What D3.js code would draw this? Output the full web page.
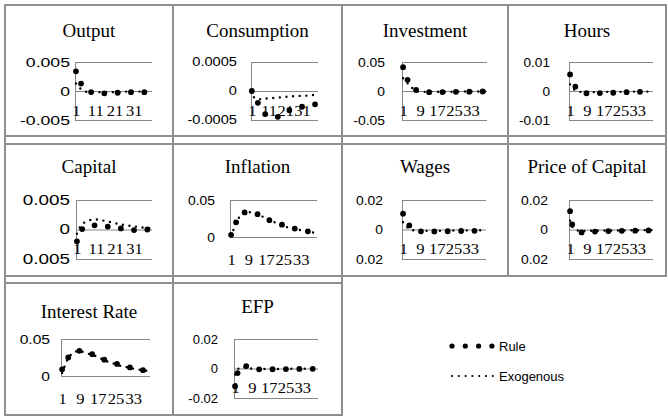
<!DOCTYPE html>
<html>
<head>
<meta charset="utf-8">
<script src="https://cdnjs.cloudflare.com/ajax/libs/d3/7.8.5/d3.min.js"></script>
<style>
  body { margin: 0; background: #fff; }
  svg { display: block; }
</style>
</head>
<body>
<div id="chart"></div>
<script>
// Impulse responses to a shock, 40 periods, "Rule" vs "Exogenous"

const periods = d3.range(1, 41);

const titles = ["Output", "Consumption", "Investment", "Hours", "Capital",
                "Inflation", "Wages", "Price of Capital", "Interest Rate", "EFP"];

const seriesNames = ["Rule", "Exogenous"];

// x tick labels (every 10th or every 8th period)
const xTicksTen = [1, 11, 21, 31];
const xTicksEight = [1, 9, 17, 25, 33];

// y ticks and labels as printed on each panel
const outputTicks = [0.005, 0, -0.005];
const outputLabels = ["0.005", "0", "-0.005"];
const consumptionTicks = [0.0005, 0, -0.0005];
const consumptionLabels = ["0.0005", "0", "-0.0005"];
const investmentTicks = [0.05, 0, -0.05];
const investmentLabels = ["0.05", "0", "-0.05"];
const hoursTicks = [0.01, 0, -0.01];
const hoursLabels = ["0.01", "0", "-0.01"];
const capitalTicks = [0.005, 0, -0.005];
const capitalLabels = ["0.005", "0", "0.005"];
const inflationTicks = [0.05, 0];
const inflationLabels = ["0.05", "0"];
const wagesTicks = [0.02, 0, -0.02];
const wagesLabels = ["0.02", "0", "0.02"];
const priceTicks = [0.02, 0, -0.02];
const priceLabels = ["0.02", "0", "0.02"];
const interestTicks = [0.05, 0];
const interestLabels = ["0.05", "0"];
const efpTicks = [0.02, 0, -0.02];
const efpLabels = ["0.02", "0", "-0.02"];

// series values
const outputRule = [
  0.0034, 0.0024, 0.0016, 0.0011, 0.0007, 0.0004, 0.0001, -0.0001, -0.0002, -0.0003,
  -0.0003, -0.0003, -0.0004, -0.0004, -0.0004, -0.0004, -0.0004, -0.0003, -0.0003, -0.0003,
  -0.0003, -0.0003, -0.0003, -0.0003, -0.0003, -0.0003, -0.0003, -0.0002, -0.0002, -0.0002,
  -0.0002, -0.0002, -0.0002, -0.0002, -0.0002, -0.0002, -0.0002, -0.0002, -0.0002, -0.0002];
const outputExo = [
  0.0013, 0.0009, 0.0005, 0.0002, 0.0000, -0.0001, -0.0002, -0.0002, -0.0002, -0.0002,
  -0.0002, -0.0002, -0.0002, -0.0002, -0.0002, -0.0002, -0.0002, -0.0002, -0.0002, -0.0002,
  -0.0002, -0.0002, -0.0002, -0.0002, -0.0001, -0.0001, -0.0001, -0.0001, -0.0001, -0.0001,
  -0.0001, -0.0001, -0.0001, -0.0001, -0.0001, -0.0001, -0.0001, -0.0001, -0.0001, -0.0001];

const consumptionRule = [
  0, -0.00008, -0.00014, -0.00018, -0.00022, -0.00027, -0.00032, -0.00036, -0.0004, -0.00042,
  -0.00043, -0.00044, -0.00045, -0.00045, -0.00045, -0.00045, -0.00044, -0.00043, -0.00041, -0.0004,
  -0.00038, -0.00036, -0.00034, -0.00032, -0.00031, -0.0003, -0.00029, -0.00028, -0.00028, -0.00027,
  -0.00027, -0.00026, -0.00026, -0.00025, -0.00025, -0.00024, -0.00024, -0.00023, -0.00023, -0.00022];
const consumptionExo = [
  0, -0.0001, -0.00013, -0.00014, -0.00014, -0.00014, -0.00014, -0.00013, -0.00013, -0.00013,
  -0.00013, -0.00012, -0.00012, -0.00012, -0.00012, -0.00011, -0.00011, -0.00011, -0.00011, -0.0001,
  -0.0001, -0.0001, -0.0001, -0.0001, -0.00009, -0.00009, -0.00009, -0.00009, -0.00009, -0.00008,
  -0.00008, -0.00008, -0.00008, -0.00008, -0.00007, -0.00007, -0.00007, -0.00007, -0.00007, -0.00007];

const investmentRule = [
  0.041, 0.029, 0.020, 0.014, 0.009, 0.005, 0.002, 0.000, -0.001, -0.0015,
  -0.002, -0.002, -0.002, -0.002, -0.002, -0.002, -0.0019, -0.0019, -0.0018, -0.0018,
  -0.0017, -0.0017, -0.0016, -0.0016, -0.0015, -0.0015, -0.0014, -0.0014, -0.0013, -0.0013,
  -0.0012, -0.0012, -0.0011, -0.0011, -0.001, -0.001, -0.001, -0.0009, -0.0009, -0.0009];
const investmentExo = [
  0.022, 0.018, 0.014, 0.010, 0.006, 0.003, 0.001, -0.0003, -0.001, -0.0013,
  -0.0015, -0.0015, -0.0015, -0.0015, -0.0015, -0.0014, -0.0014, -0.0014, -0.0013, -0.0013,
  -0.0013, -0.0012, -0.0012, -0.0012, -0.0011, -0.0011, -0.0011, -0.001, -0.001, -0.001,
  -0.0009, -0.0009, -0.0009, -0.0008, -0.0008, -0.0008, -0.0008, -0.0007, -0.0007, -0.0007];

const hoursRule = [
  0.0057, 0.0035, 0.002, 0.001, 0.0003, -0.0002, -0.0005, -0.0007, -0.0008, -0.0008,
  -0.0008, -0.0008, -0.0008, -0.0008, -0.0007, -0.0007, -0.0007, -0.0007, -0.0006, -0.0006,
  -0.0006, -0.0006, -0.0005, -0.0005, -0.0005, -0.0005, -0.0004, -0.0004, -0.0004, -0.0004,
  -0.0004, -0.0003, -0.0003, -0.0003, -0.0003, -0.0003, -0.0003, -0.0002, -0.0002, -0.0002];
const hoursExo = [
  0.0023, 0.0012, 0.0005, 0.0001, -0.0002, -0.0003, -0.0004, -0.0004, -0.0004, -0.0004,
  -0.0004, -0.0004, -0.0004, -0.0004, -0.0004, -0.0004, -0.0004, -0.0003, -0.0003, -0.0003,
  -0.0003, -0.0003, -0.0003, -0.0003, -0.0003, -0.0003, -0.0003, -0.0002, -0.0002, -0.0002,
  -0.0002, -0.0002, -0.0002, -0.0002, -0.0002, -0.0002, -0.0002, -0.0002, -0.0001, -0.0001];

const capitalRule = [
  -0.002, -0.0009, -0.0003, 0.0002, 0.0004, 0.0005, 0.0006, 0.0007, 0.0007, 0.0007,
  0.0007, 0.0007, 0.0006, 0.0006, 0.0006, 0.0005, 0.0005, 0.0005, 0.0004, 0.0004,
  0.0003, 0.0003, 0.0002, 0.0002, 0.0001, 0.0001, 0.0000, 0.0000, -0.0001, -0.0001,
  -0.0001, -0.0001, -0.0001, -0.0001, -0.0001, -0.0001, 0.0000, 0.0000, 0.0000, 0.0000];
const capitalExo = [
  -0.0007, 0.0001, 0.0006, 0.001, 0.0012, 0.0014, 0.0015, 0.0016, 0.0017, 0.0017,
  0.0017, 0.0017, 0.0016, 0.0016, 0.0015, 0.0015, 0.0014, 0.0013, 0.0012, 0.0012,
  0.0011, 0.001, 0.0009, 0.0009, 0.0008, 0.0008, 0.0007, 0.0007, 0.0006, 0.0006,
  0.0005, 0.0005, 0.0004, 0.0004, 0.0004, 0.0003, 0.0003, 0.0002, 0.0002, 0.0002];

const inflationRule = [
  0.003, 0.011, 0.018, 0.024, 0.028, 0.031, 0.033, 0.034, 0.034, 0.034,
  0.033, 0.032, 0.031, 0.030, 0.029, 0.027, 0.026, 0.024, 0.022, 0.021,
  0.020, 0.019, 0.018, 0.017, 0.016, 0.015, 0.014, 0.013, 0.012, 0.0115,
  0.011, 0.010, 0.0095, 0.009, 0.0085, 0.008, 0.007, 0.0065, 0.006, 0.0055];
const inflationExo = [
  0.001, 0.009, 0.017, 0.023, 0.028, 0.031, 0.033, 0.034, 0.034, 0.033,
  0.032, 0.031, 0.030, 0.029, 0.028, 0.027, 0.025, 0.024, 0.022, 0.021,
  0.020, 0.018, 0.017, 0.016, 0.015, 0.014, 0.013, 0.013, 0.012, 0.011,
  0.010, 0.010, 0.009, 0.0085, 0.008, 0.0075, 0.007, 0.0065, 0.006, 0.0055];

const wagesRule = [
  0.0107, 0.007, 0.0045, 0.0027, 0.0013, 0.0003, -0.0004, -0.0009, -0.0012, -0.0013,
  -0.0014, -0.0014, -0.0014, -0.0014, -0.0014, -0.0013, -0.0013, -0.0013, -0.0013, -0.0012,
  -0.0012, -0.0012, -0.0012, -0.0011, -0.0011, -0.0011, -0.0011, -0.001, -0.001, -0.001,
  -0.001, -0.0009, -0.0009, -0.0009, -0.0009, -0.0008, -0.0008, -0.0008, -0.0008, -0.0008];
const wagesExo = [
  0.005, 0.003, 0.0015, 0.0005, -0.0002, -0.0006, -0.0008, -0.0009, -0.0009, -0.0009,
  -0.0009, -0.0009, -0.0009, -0.0009, -0.0009, -0.0009, -0.0008, -0.0008, -0.0008, -0.0008,
  -0.0008, -0.0008, -0.0007, -0.0007, -0.0007, -0.0007, -0.0007, -0.0007, -0.0006, -0.0006,
  -0.0006, -0.0006, -0.0006, -0.0006, -0.0006, -0.0005, -0.0005, -0.0005, -0.0005, -0.0005];

const priceRule = [
  0.0124, 0.0035, 0.0005, -0.001, -0.0017, -0.002, -0.002, -0.0019, -0.0018, -0.0017,
  -0.0016, -0.0015, -0.0014, -0.0014, -0.0013, -0.0013, -0.0012, -0.0012, -0.0011, -0.0011,
  -0.0011, -0.001, -0.001, -0.001, -0.0009, -0.0009, -0.0009, -0.0009, -0.0008, -0.0008,
  -0.0008, -0.0008, -0.0007, -0.0007, -0.0007, -0.0007, -0.0007, -0.0006, -0.0006, -0.0006];
const priceExo = [
  0.006, 0.002, 0.0003, -0.0005, -0.0008, -0.0009, -0.0009, -0.0009, -0.0009, -0.0009,
  -0.0008, -0.0008, -0.0008, -0.0008, -0.0008, -0.0007, -0.0007, -0.0007, -0.0007, -0.0007,
  -0.0007, -0.0006, -0.0006, -0.0006, -0.0006, -0.0006, -0.0006, -0.0006, -0.0005, -0.0005,
  -0.0005, -0.0005, -0.0005, -0.0005, -0.0005, -0.0004, -0.0004, -0.0004, -0.0004, -0.0004];

const interestRule = [
  0.009, 0.016, 0.022, 0.026, 0.029, 0.031, 0.033, 0.034, 0.034, 0.034,
  0.033, 0.032, 0.031, 0.030, 0.029, 0.028, 0.027, 0.025, 0.024, 0.022,
  0.021, 0.020, 0.019, 0.018, 0.017, 0.016, 0.015, 0.014, 0.013, 0.0125,
  0.012, 0.011, 0.010, 0.0095, 0.009, 0.0085, 0.008, 0.0075, 0.007, 0.0065];
const interestExo = [
  0.004, 0.012, 0.020, 0.025, 0.029, 0.032, 0.033, 0.034, 0.034, 0.033,
  0.032, 0.031, 0.030, 0.029, 0.028, 0.027, 0.026, 0.024, 0.023, 0.022,
  0.020, 0.019, 0.018, 0.017, 0.016, 0.015, 0.014, 0.013, 0.013, 0.012,
  0.011, 0.010, 0.010, 0.009, 0.009, 0.0085, 0.008, 0.0075, 0.007, 0.0065];

const efpRule = [
  -0.012, -0.004, 0.0005, 0.0018, 0.0021, 0.0018, 0.0012, 0.0006, 0.0002, 0.0000,
  -0.0003, -0.0005, -0.0006, -0.0006, -0.0006, -0.0006, -0.0006, -0.0006, -0.0005, -0.0005,
  -0.0005, -0.0005, -0.0005, -0.0004, -0.0004, -0.0004, -0.0004, -0.0004, -0.0003, -0.0003,
  -0.0003, -0.0003, -0.0003, -0.0003, -0.0002, -0.0002, -0.0002, -0.0002, -0.0002, -0.0002];
const efpExo = [
  -0.004, -0.001, 0.0005, 0.001, 0.0009, 0.0006, 0.0003, 0.0001, 0.0000, -0.0001,
  -0.0002, -0.0002, -0.0003, -0.0003, -0.0003, -0.0003, -0.0003, -0.0003, -0.0003, -0.0003,
  -0.0003, -0.0003, -0.0002, -0.0002, -0.0002, -0.0002, -0.0002, -0.0002, -0.0002, -0.0002,
  -0.0002, -0.0002, -0.0001, -0.0001, -0.0001, -0.0001, -0.0001, -0.0001, -0.0001, -0.0001];

// ---- layout (table cells and plot boxes, in page pixels) ----
const colX = [5, 173, 342, 508, 666];
const rowY = [[5, 136], [144, 276], [283, 415]];

const panels = [
  {rule: outputRule, exo: outputExo, ticks: outputTicks, labels: outputLabels, xt: xTicksTen,
   col: 0, row: 0, L: 75, R: 152, T: 62, B: 120, lr: 70, fs: 13, sx: 1.36, ty: 37},
  {rule: consumptionRule, exo: consumptionExo, ticks: consumptionTicks, labels: consumptionLabels, xt: xTicksTen,
   col: 1, row: 0, L: 251, R: 318, T: 62, B: 120, lr: 237, fs: 12, sx: 1.22, ty: 37},
  {rule: investmentRule, exo: investmentExo, ticks: investmentTicks, labels: investmentLabels, xt: xTicksEight,
   col: 2, row: 0, L: 402, R: 487, T: 62, B: 120, lr: 385, fs: 13, sx: 1.07, ty: 37},
  {rule: hoursRule, exo: hoursExo, ticks: hoursTicks, labels: hoursLabels, xt: xTicksEight,
   col: 3, row: 0, L: 569, R: 653, T: 62, B: 120, lr: 550, fs: 13, sx: 1.05, ty: 37},
  {rule: capitalRule, exo: capitalExo, ticks: capitalTicks, labels: capitalLabels, xt: xTicksTen,
   col: 0, row: 1, L: 76, R: 152, T: 200, B: 259, lr: 70, fs: 14, sx: 1.35, ty: 173},
  {rule: inflationRule, exo: inflationExo, ticks: inflationTicks, labels: inflationLabels, xt: xTicksEight,
   col: 1, row: 1, L: 230, R: 317, T: 200, B: 237, lr: 215, fs: 13, sx: 1.07, ty: 173},
  {rule: wagesRule, exo: wagesExo, ticks: wagesTicks, labels: wagesLabels, xt: xTicksEight,
   col: 2, row: 1, L: 402, R: 486, T: 200, B: 259, lr: 383, fs: 13, sx: 1.07, ty: 173},
  {rule: priceRule, exo: priceExo, ticks: priceTicks, labels: priceLabels, xt: xTicksEight,
   col: 3, row: 1, L: 569, R: 653, T: 200, B: 259, lr: 548, fs: 13, sx: 1.07, ty: 173},
  {rule: interestRule, exo: interestExo, ticks: interestTicks, labels: interestLabels, xt: xTicksEight,
   col: 0, row: 2, L: 61, R: 150, T: 339, B: 376, lr: 50, fs: 13, sx: 1.2, ty: 318},
  {rule: efpRule, exo: efpExo, ticks: efpTicks, labels: efpLabels, xt: xTicksEight,
   col: 1, row: 2, L: 234, R: 318, T: 339, B: 398, lr: 218, fs: 13, sx: 1.0, ty: 313}
];

const gridColor = "#868686";
const borderColor = "#8f8f8f";

const svg = d3.select("#chart")
    .append("svg")
    .attr("width", 668)
    .attr("height", 417);

svg.append("rect")
    .attr("width", 668)
    .attr("height", 417)
    .attr("fill", "#fff");

// Table borders
const borders = svg.append("g")
    .attr("stroke", borderColor)
    .attr("stroke-width", 2)
    .attr("fill", "none");

rowY.forEach((r, ri) => {
    const right = ri === 2 ? colX[2] : colX[4];
    r.forEach(yy => {
        borders.append("line").attr("x1", colX[0] - 1).attr("x2", right + 1)
            .attr("y1", yy).attr("y2", yy);
    });
});
colX.forEach((xx, ci) => {
    const bottom = ci <= 2 ? rowY[2][1] : rowY[1][1];
    borders.append("line").attr("x1", xx).attr("x2", xx)
        .attr("y1", rowY[0][0]).attr("y2", bottom);
});

// Panels
panels.forEach((p, i) => {
    const g = svg.append("g");

    const x = d3.scalePoint()
        .domain(periods)
        .range([p.L, p.R])
        .padding(0.5);

    const y = d3.scaleLinear()
        .domain(d3.extent(p.ticks))
        .range([p.B, p.T]);

    // Title
    g.append("text")
        .attr("x", (colX[p.col] + colX[p.col + 1]) / 2)
        .attr("y", p.ty)
        .attr("text-anchor", "middle")
        .style("font-family", "'Liberation Serif', 'Times New Roman', serif")
        .style("font-size", "19px")
        .attr("fill", "#000")
        .text(titles[i]);

    // Y axis with gridlines
    const yAxis = g.append("g")
        .attr("transform", `translate(${p.L},0)`)
        .call(d3.axisLeft(y)
            .tickValues(p.ticks)
            .tickFormat((d, k) => p.labels[k])
            .tickSize(-(p.R - p.L))
            .tickSizeOuter(0)
            .tickPadding((p.L - p.lr) / p.sx));

    yAxis.select(".domain").attr("stroke", gridColor);
    yAxis.selectAll(".tick line").attr("stroke", gridColor);
    yAxis.selectAll(".tick text")
        .attr("transform", `scale(${p.sx},1)`)
        .attr("fill", "#000")
        .style("font-family", "'Liberation Sans', Arial, sans-serif")
        .style("font-size", p.fs + "px");

    // X axis labels (axis crosses at zero)
    const xAxis = g.append("g")
        .attr("transform", `translate(0,${y(0)})`)
        .call(d3.axisBottom(x).tickValues(p.xt).tickSize(0).tickPadding(0));

    xAxis.select(".domain").remove();
    xAxis.selectAll(".tick text")
        .attr("y", y(0) === p.B ? 28 : 25)
        .attr("dy", null)
        .attr("transform", "scale(1.18,1)")
        .attr("fill", "#000")
        .style("font-family", "'Liberation Serif', 'Times New Roman', serif")
        .style("font-size", "14px");

    const line = d3.line()
        .x((d, k) => x(periods[k]))
        .y(d => y(d));

    // Exogenous: thin round-dot line
    g.append("path")
        .datum(p.exo)
        .attr("fill", "none")
        .attr("stroke", "#000")
        .attr("stroke-width", 2.4)
        .attr("stroke-linecap", "round")
        .attr("stroke-dasharray", "0 6.7")
        .attr("d", line);

    // Rule: heavy round-dot line
    g.append("path")
        .datum(p.rule)
        .attr("fill", "none")
        .attr("stroke", "#000")
        .attr("stroke-width", 5.8)
        .attr("stroke-linecap", "round")
        .attr("stroke-dasharray", "0 13.4")
        .attr("d", line);
});

// Legend
const legend = svg.append("g");
const legendStyles = [
    {w: 5.2, dash: "0 13.3", y: 346, x2: 492},
    {w: 2.2, dash: "0 6.8", y: 376, x2: 493}
];
seriesNames.forEach((name, i) => {
    const s = legendStyles[i];
    legend.append("path")
        .attr("d", `M452,${s.y}H${s.x2}`)
        .attr("stroke", "#000")
        .attr("stroke-width", s.w)
        .attr("stroke-linecap", "round")
        .attr("stroke-dasharray", s.dash);
    legend.append("text")
        .attr("x", 499)
        .attr("y", s.y + 4.5)
        .style("font-family", "'Liberation Sans', Arial, sans-serif")
        .style("font-size", "13px")
        .attr("fill", "#000")
        .text(name);
});
</script>
</body>
</html>
